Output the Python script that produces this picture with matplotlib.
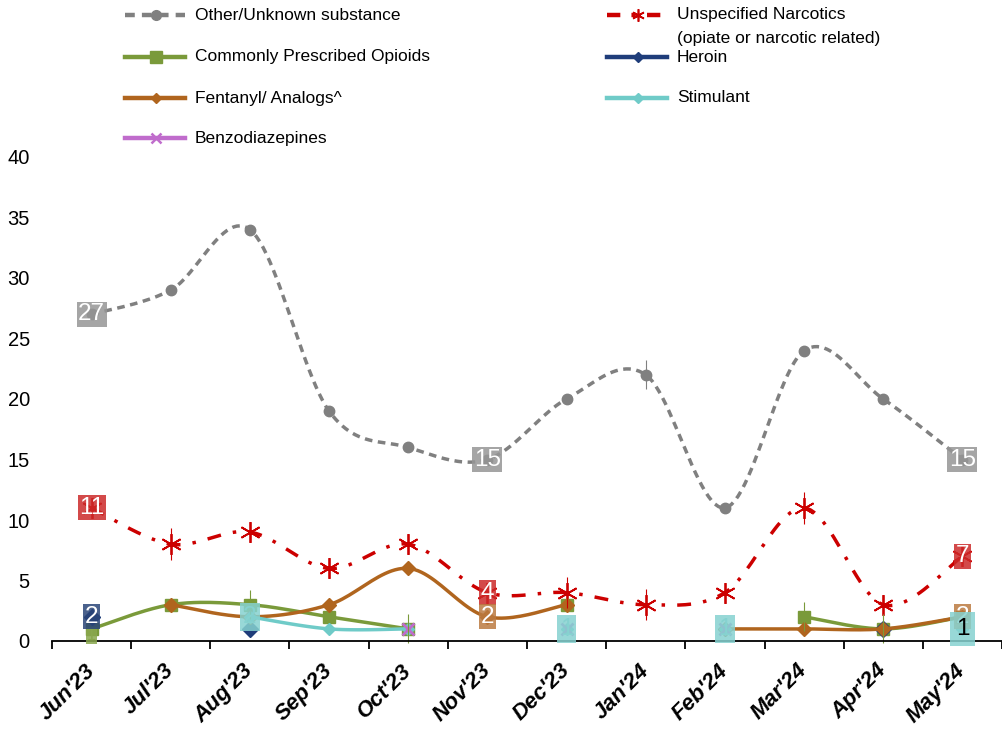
import numpy as np
import matplotlib
matplotlib.use("Agg")
from matplotlib import pyplot as plt
from matplotlib.lines import Line2D

plt.rcParams["font.family"] = ["Liberation Sans", "DejaVu Sans"]

months = ["Jun'23", "Jul'23", "Aug'23", "Sep'23", "Oct'23", "Nov'23",
          "Dec'23", "Jan'24", "Feb'24", "Mar'24", "Apr'24", "May'24"]
nan = np.nan
other = [27, 29, 34, 19, 16, 15, 20, 22, 11, 24, 20, 15]
narcotics = [11, 8, 9, 6, 8, 4, 4, 3, 4, 11, 3, 7]
opioids = [1, 3, 3, 2, 1, nan, 3, nan, nan, 2, 1, 2]
heroin = [2, nan, 1, nan, nan, nan, nan, nan, nan, nan, 1, nan]
fentanyl = [nan, 3, 2, 3, 6, 2, 3, nan, 1, 1, 1, 2]
stimulant = [nan, nan, 2, 1, 1, nan, 1, nan, 1, nan, nan, 1]
benzo = [nan, nan, nan, nan, 1, nan, 1, nan, 1, nan, nan, nan]

# which points carry a data label
other_lab = [0, 5, 11]
narc_lab = [0, 5, 11]
heroin_lab = [0]
fent_lab = [5, 11]
stim_lab = [2, 6, 8, 11]
opi_lab = [0]

W, H = 1002, 730


def px(x, y):
    return x / W, 1 - y / H


def smooth(y, n=25):
    # excel-like smoothed line, broken at gaps
    y = np.asarray(y, float)
    xs_all, ys_all = [], []
    i = 0
    while i < len(y):
        if np.isnan(y[i]):
            i += 1
            continue
        j = i
        while j + 1 < len(y) and not np.isnan(y[j + 1]):
            j += 1
        pts = np.array([[k, y[k]] for k in range(i, j + 1)])
        for k in range(len(pts) - 1):
            p0 = pts[k - 1] if k > 0 else pts[k]
            p1, p2 = pts[k], pts[k + 1]
            p3 = pts[k + 2] if k + 2 < len(pts) else pts[k + 1]
            c1 = p1 + (p2 - p0) / 6
            c2 = p2 - (p3 - p1) / 6
            t = np.linspace(0, 1, n)[:, None]
            b = ((1 - t) ** 3) * p1 + 3 * ((1 - t) ** 2) * t * c1 + 3 * (1 - t) * t ** 2 * c2 + t ** 3 * p2
            xs_all.extend(b[:, 0])
            ys_all.extend(b[:, 1])
        xs_all.append(nan)
        ys_all.append(nan)
        i = j + 1
    return xs_all, ys_all


fig = plt.figure(figsize=(W / 100, H / 100), dpi=100)
ax = fig.add_axes([52 / W, 89 / H, 950 / W, 484 / H])
x = np.arange(len(months))

series = [
    (other, "#808080", dict(dashes=(2.2, 1.6)), "o", 7.5, "#808080", 1),
    (narcotics, "#cc0000", dict(dashes=(4, 3.5, 1, 3.5)), (6, 2, 0), 15, "#cc0000", 1.3),
    (opioids, "#7a9a3a", {}, "s", 9, "#7a9a3a", 1),
    (heroin, "#1f3d7a", {}, "D", 8, "#1f3d7a", 1),
    (fentanyl, "#b0651e", {}, "D", 7.5, "#b0651e", 1),
    (stimulant, "#6fcbc8", {}, "D", 6, "#6fcbc8", 1),
    (benzo, "#c06ccc", {}, "x", 8, "#c06ccc", 2),
]
for vals, col, ls, mk, ms, mc, mew in series:
    sx, sy = smooth(vals)
    ax.plot(sx, sy, color=col, lw=2.5, solid_capstyle="butt", clip_on=False, **ls)
    ax.plot(x, vals, ls="none", marker=mk, ms=ms, color=mc, mec=mc, mew=mew, clip_on=False)

# thin vertical bars seen on some points
ax.errorbar(x[[1, 6, 7, 9]], np.array(narcotics)[[1, 6, 7, 9]], yerr=1.3, fmt="none",
            ecolor="#cc0000", elinewidth=0.8, capsize=0)
ax.errorbar(x[[7]], np.array(other)[[7]], yerr=1.2, fmt="none",
            ecolor="#808080", elinewidth=0.8, capsize=0)
ax.errorbar(x[[2, 4, 9, 10]], np.array(opioids)[[2, 4, 9, 10]], yerr=1.2, fmt="none",
            ecolor="#7a9a3a", elinewidth=0.8, capsize=0, clip_on=False)


def labels(vals, idx, box, tc="white", dy=0, pad=0.06, fs=17.5):
    for i in idx:
        ax.annotate(f"{vals[i]:g}", (x[i], vals[i]), xytext=(0, dy), textcoords="offset points",
                    ha="center", va="center", fontsize=fs, color=tc,
                    bbox=dict(boxstyle=f"square,pad={pad}", fc=box, ec="none", alpha=0.85))


labels(other, other_lab, "#969696")
labels(narcotics, narc_lab, "#cc2a2a")
labels(opioids, opi_lab, "#8aa84e", tc="#8aa84e", dy=-5, fs=12)
labels(heroin, heroin_lab, "#2a4578")
labels(fentanyl, fent_lab, "#bb7a40")
labels(stimulant, stim_lab[:-1], "#86d2d0", tc="#86d2d0", pad=0.12)
labels(stimulant, stim_lab[-1:], "#86d2d0", tc="black", pad=0.25)

ax.set_xlim(-0.5, -0.5 + 950 / 79.6)
ax.set_ylim(0, 40)
ax.set_yticks(range(0, 41, 5))
ax.tick_params(axis="y", length=0, pad=16, labelsize=14.5)
ax.set_xticks(x)
ax.set_xticklabels(months, rotation=45, ha="right", va="center", rotation_mode="anchor",
                   fontsize=16, fontweight="bold", fontstyle="italic")
ax.tick_params(axis="x", which="major", length=0, pad=19)
ax.set_xticks(np.arange(-0.5, 12, 1), minor=True)
ax.tick_params(axis="x", which="minor", length=6, width=1.3, direction="out")
for s in ["top", "right", "left"]:
    ax.spines[s].set_visible(False)
ax.spines["bottom"].set_linewidth(1.3)

# legend, drawn by hand to keep Excel layout
leg = [
    ("Other/Unknown substance", 125, 15, "#808080", (2.2, 1.6), "o", 7, 1),
    ("Commonly Prescribed Opioids", 125, 57, "#7a9a3a", None, "s", 8, 1),
    ("Fentanyl/ Analogs^", 125, 98, "#b0651e", None, "D", 5, 1),
    ("Benzodiazepines", 125, 138, "#c06ccc", None, "x", 7, 1.8),
    ("Unspecified Narcotics", 607, 15, "#cc0000", (3, 2.5, 1, 2.5), (6, 2, 0), 9, 1.2),
    ("Heroin", 607, 57, "#1f3d7a", None, "D", 5, 1),
    ("Stimulant", 607, 98, "#6fcbc8", None, "D", 5, 1),
]
for name, lx, ly, col, dash, mk, ms, mew in leg:
    x0, y0 = px(lx, ly)
    x1, _ = px(lx + 60, ly)
    ln = Line2D([x0, x1], [y0, y0], transform=fig.transFigure, color=col, lw=3.2)
    if dash:
        ln.set_dashes(dash)
    fig.add_artist(ln)
    xm, _ = px(lx + 31, ly)
    fig.add_artist(Line2D([xm], [y0], transform=fig.transFigure, ls="none", marker=mk, ms=ms,
                          color=col, mec=col, mew=mew))
    tx, ty = px(lx + 70, ly)
    fig.text(tx, ty, name, ha="left", va="center", fontsize=12.5)
tx, ty = px(677, 39)
fig.text(tx, ty, "(opiate or narcotic related)", ha="left", va="center", fontsize=12.5)

fig.savefig("out.png", dpi=100)
